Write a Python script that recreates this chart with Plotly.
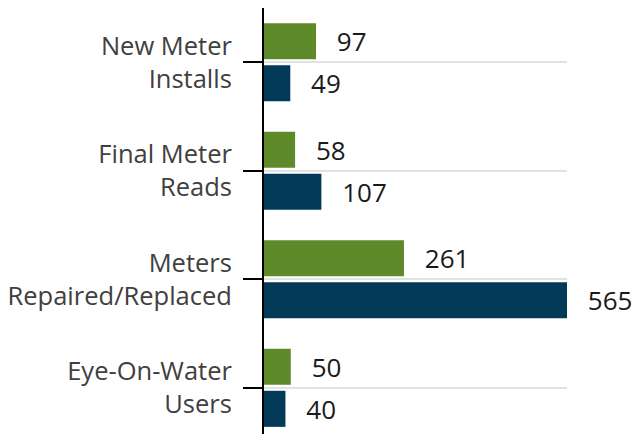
import plotly.graph_objects as go

categories = ["New Meter<br>Installs", "Final Meter<br>Reads", "Meters<br>Repaired/Replaced", "Eye-On-Water<br>Users"]
series_green = [97, 58, 261, 50]
series_navy = [49, 107, 565, 40]

GREEN = "#5e8a2a"
NAVY = "#033a58"
FONT = "Open Sans"

fig = go.Figure()
for vals, col, name in [(series_green, GREEN, "A"), (series_navy, NAVY, "B")]:
    fig.add_trace(go.Bar(
        y=categories, x=vals, orientation="h", name=name,
        marker=dict(color=col, line=dict(width=0)),
        texttemplate="\u00a0\u00a0\u2009%{x}", textposition="outside",
        textfont=dict(family=FONT, size=26, color="#1a1a1a"),
        constraintext="none", cliponaxis=False,
    ))

fig.update_layout(
    width=643, height=434,
    margin=dict(l=256, r=84, t=0, b=0, autoexpand=False),
    barmode="group", bargap=0.224, bargroupgap=0.143,
    showlegend=False,
    plot_bgcolor="white", paper_bgcolor="white",
    font=dict(family=FONT, size=25.5, color="#404040"),
    xaxis=dict(range=[0, 565], visible=False, showgrid=False, zeroline=False, automargin=False),
    yaxis=dict(
        range=[3.5, -0.5], type="category", automargin=False,
        showline=True, linecolor="black", linewidth=2,
        ticks="outside", ticklen=19, tickwidth=2, tickcolor="black",
        showgrid=True, gridcolor="#e2e2e2", gridwidth=2,
        ticklabelstandoff=6,
        tickfont=dict(family=FONT, size=25.5, color="#404040"),
    ),
)

fig.write_html(
    "out.html",
    post_script="document.documentElement.style.overflow='hidden';document.body.style.overflow='hidden';",
)
